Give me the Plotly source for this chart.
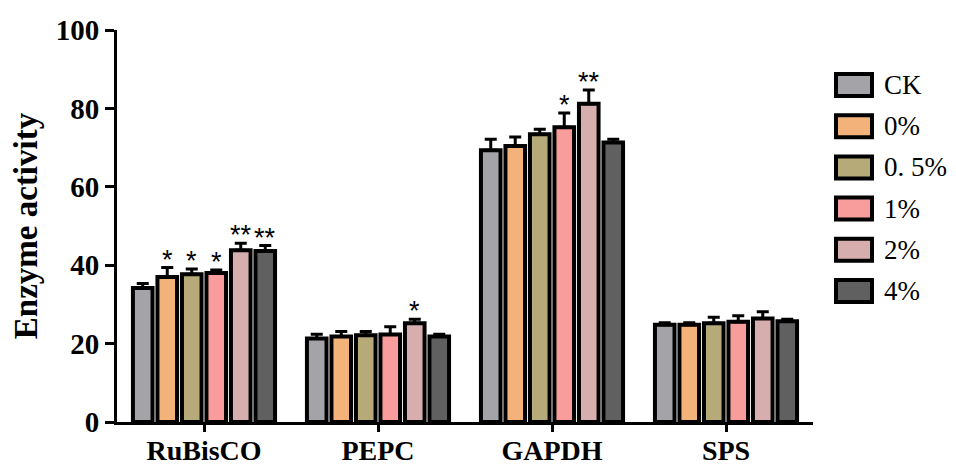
import plotly.graph_objects as go

categories = ["RuBisCO", "PEPC", "GAPDH", "SPS"]
series_names = ["CK", "0%", "0. 5%", "1%", "2%", "4%"]
colors = ["#a3a3a8", "#f2b27a", "#b6aa78", "#f89c9c", "#d6aeae", "#606060"]

# values per series across categories
values = {
    "CK":    [34.2, 21.3, 69.3, 24.8],
    "0%":    [37.0, 21.8, 70.4, 24.8],
    "0. 5%": [37.7, 22.1, 73.4, 25.2],
    "1%":    [38.0, 22.3, 75.2, 25.6],
    "2%":    [43.8, 25.2, 81.2, 26.4],
    "4%":    [43.6, 21.8, 71.3, 25.7],
}
errors = {
    "CK":    [1.1, 1.1, 2.8, 0.5],
    "0%":    [2.4, 1.3, 2.3, 0.5],
    "0. 5%": [1.3, 1.0, 1.3, 1.5],
    "1%":    [0.8, 2.0, 3.6, 1.5],
    "2%":    [1.8, 1.0, 3.5, 1.7],
    "4%":    [1.4, 0.6, 0.8, 0.5],
}
stars = {
    "CK":    ["", "", "", ""],
    "0%":    ["*", "", "", ""],
    "0. 5%": ["*", "", "", ""],
    "1%":    ["*", "", "*", ""],
    "2%":    ["**", "*", "**", ""],
    "4%":    ["**", "", "", ""],
}

BARGAP = 0.155
serif = "Liberation Serif"

fig = go.Figure()
for name, col in zip(series_names, colors):
    fig.add_trace(go.Bar(
        x=categories, y=values[name], name=name,
        marker=dict(color=col, line=dict(color="black", width=4)),
        error_y=dict(type="data", symmetric=False, array=errors[name],
                     arrayminus=[0] * len(categories),
                     color="black", thickness=3, width=6),
        showlegend=False,
    ))

# significance marks above error bars
n = len(series_names)
w = 1 - BARGAP
annotations = []
for i, name in enumerate(series_names):
    for j, cat in enumerate(categories):
        s = stars[name][j]
        if s:
            xpos = j - w / 2 + (i + 0.5) * w / n
            annotations.append(dict(
                x=xpos, y=values[name][j] + errors[name][j], xref="x", yref="y",
                text=s, showarrow=False, yanchor="bottom", yshift=-9,
                font=dict(family="Liberation Sans", size=27, color="#000000")))

# legend drawn manually (large boxes like the original)
shapes = []
leg_top = 85
leg_step = 41.2
for i, (name, col) in enumerate(zip(series_names, colors)):
    yc = leg_top + i * leg_step
    shapes.append(dict(type="rect", xref="paper", yref="paper",
                       x0=(836 - 117) / 696, x1=(872 - 117) / 696,
                       y0=(422 - (yc + 11)) / 392, y1=(422 - (yc - 11)) / 392,
                       fillcolor=col, line=dict(color="black", width=4)))
    annotations.append(dict(
        x=(882 - 117) / 696, y=(422 - yc) / 392, xref="paper", yref="paper",
        text=name, showarrow=False, xanchor="left", yanchor="middle",
        font=dict(family=serif, size=27, color="black")))

fig.update_layout(
    width=956, height=468,
    margin=dict(l=117, r=143, t=30, b=46),
    paper_bgcolor="white", plot_bgcolor="white",
    barmode="group", bargap=BARGAP, bargroupgap=0.2,
    annotations=annotations, shapes=shapes,
    showlegend=False,
    xaxis=dict(
        range=[-0.5, 3.5], showline=True, linecolor="black", linewidth=3,
        ticks="outside", ticklen=7, tickwidth=3, tickcolor="black",
        tickfont=dict(family=serif, size=28, color="black", weight="bold"),
        ticklabelstandoff=-6,
        showgrid=False, zeroline=False, automargin=False,
    ),
    yaxis=dict(
        range=[0, 100], tickvals=[0, 20, 40, 60, 80, 100],
        showline=True, linecolor="black", linewidth=3,
        ticks="outside", ticklen=9, tickwidth=3, tickcolor="black",
        tickfont=dict(family=serif, size=29, color="black", weight="bold"),
        showgrid=False, zeroline=False, automargin=False,
        title=dict(text="Enzyme activity",
                   font=dict(family=serif, size=33, color="black", weight="bold"),
                   standoff=9),
    ),
)

fig.write_html("out.html")
